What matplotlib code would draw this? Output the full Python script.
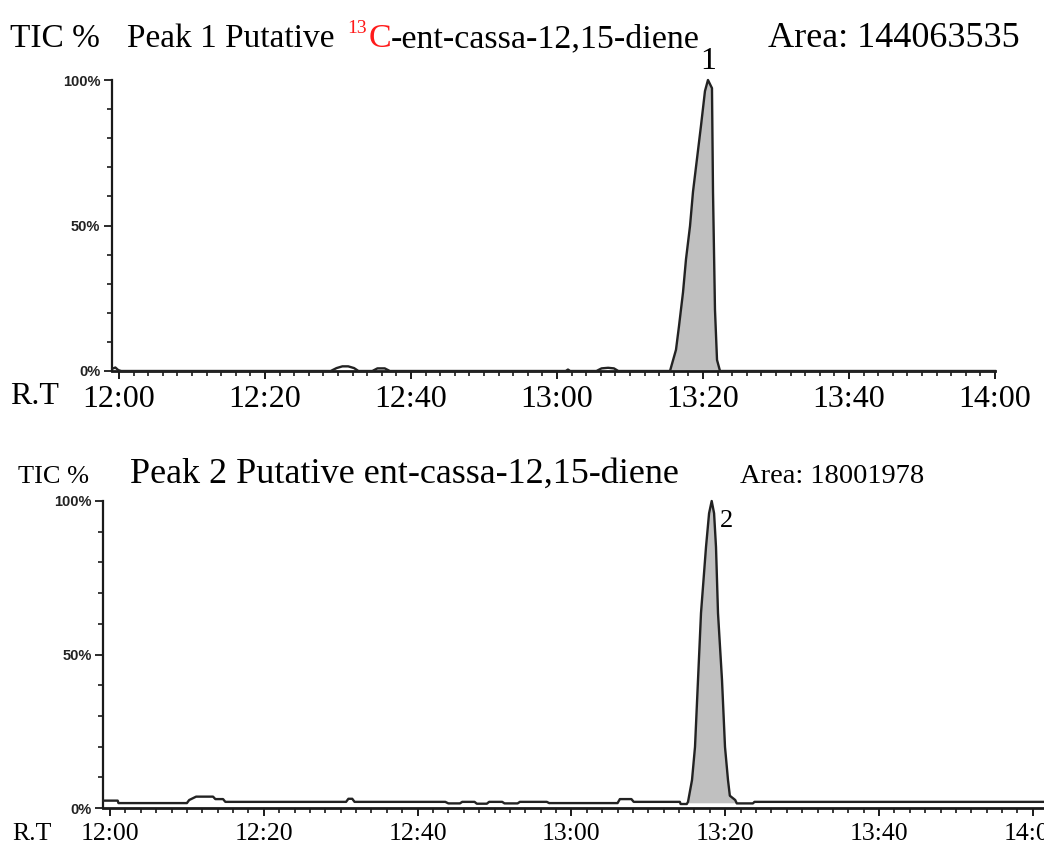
import matplotlib
matplotlib.use("Agg")
import matplotlib.pyplot as plt
from matplotlib.ticker import FixedLocator, FixedFormatter, MultipleLocator

# ---------------- data (minutes after 12:00, TIC %) ----------------
top_time = [-0.9, -0.5, -0.1, 0.3, 29.0, 29.8, 30.6, 31.4, 32.2, 32.8,
            34.7, 35.4, 36.4, 37.1, 61.2, 61.5, 61.8,
            65.4, 66.1, 67.0, 67.8, 68.4,
            75.48, 76.3, 76.7, 77.26, 77.67, 78.22, 78.63, 79.18, 79.73, 80.27, 80.68,
            81.23, 81.37, 81.64, 81.92, 82.33, 120.0]
top_tic = [0.8, 1.2, 0.3, 0.0, 0.0, 1.0, 1.6, 1.6, 1.0, 0.0,
           0.0, 0.9, 0.9, 0.0, 0.0, 0.5, 0.0,
           0.0, 0.9, 1.1, 0.9, 0.0,
           0.0, 7.3, 15.2, 27.0, 38.4, 49.8, 61.6, 73.0, 84.4, 96.2, 100.0,
           97.2, 61.6, 21.1, 3.8, 0.0, 0.0]

bottom_time = [-0.87, 1.0, 1.1, 10.0, 10.3, 11.2, 13.4, 13.7, 14.7, 15.0,
               30.7, 31.0, 31.5, 31.8, 43.6, 44.0, 45.5, 45.8, 47.4, 47.7, 49.0, 49.3,
               51.0, 51.3, 53.0, 53.3, 56.8, 57.1, 66.0, 66.3, 67.8, 68.1,
               74.1, 74.2, 75.0, 75.16, 75.68, 76.07, 76.46, 76.85, 77.5, 77.9, 78.24,
               78.55, 78.8, 79.06, 79.58, 79.97, 80.36, 80.6, 81.3, 81.5, 83.6, 83.8,
               121.45]
bottom_tic = [2.4, 2.4, 1.6, 1.6, 2.6, 3.7, 3.7, 2.9, 2.9, 2.0,
              2.0, 3.0, 3.0, 2.0, 2.0, 1.5, 1.5, 2.0, 2.0, 1.4, 1.4, 2.0,
              2.0, 1.5, 1.5, 2.0, 2.0, 1.6, 1.6, 2.9, 2.9, 2.0,
              2.0, 1.3, 1.3, 2.0, 9.1, 19.9, 41.7, 63.5, 85.0, 96.0, 100.0,
              96.0, 85.0, 63.5, 41.7, 19.9, 9.1, 4.0, 2.6, 1.5, 1.5, 2.0,
              2.0]

top_peak_window = (75.4, 82.4)
bottom_peak_window = (75.1, 81.4)
bottom_fill_base = 1.7

x_ticks = [0, 20, 40, 60, 80, 100, 120]
x_tick_labels = ["12:00", "12:20", "12:40", "13:00", "13:20", "13:40", "14:00"]
y_ticks = [0, 50, 100]
y_tick_labels = ["0%", "50%", "100%"]

top_title = "Peak 1 Putative"
top_iso_mass = "13"
top_iso_elem = "C"
top_title_rest = "-ent-cassa-12,15-diene"
top_area = "Area: 144063535"
bottom_title = "Peak 2 Putative ent-cassa-12,15-diene"
bottom_area = "Area: 18001978"
top_peak_label = "1"
bottom_peak_label = "2"

# ---------------- figure ----------------
W, H = 1044, 848
fig = plt.figure(figsize=(W / 100, H / 100), dpi=100)
SERIF = ["Liberation Serif", "DejaVu Serif"]


def fx(px):
    return px / W


def fy(py):
    return 1 - py / H


def style_axes(ax, xlim, xlab_size, xpad):
    ax.set_xlim(*xlim)
    ax.set_ylim(0, 100)
    for s in ("top", "right"):
        ax.spines[s].set_visible(False)
    ax.spines["left"].set_linewidth(1.6)
    ax.spines["bottom"].set_linewidth(2.0)
    ax.spines["left"].set_color("#1a1a1a")
    ax.spines["bottom"].set_color("#1a1a1a")
    ax.xaxis.set_major_locator(FixedLocator(x_ticks))
    ax.xaxis.set_major_formatter(FixedFormatter(x_tick_labels))
    ax.xaxis.set_minor_locator(MultipleLocator(2))
    ax.yaxis.set_major_locator(FixedLocator(y_ticks))
    ax.yaxis.set_major_formatter(FixedFormatter(y_tick_labels))
    ax.yaxis.set_minor_locator(MultipleLocator(10))
    ax.tick_params(axis="x", which="major", length=6, width=1.4, direction="out",
                   pad=xpad, labelsize=xlab_size, colors="#1a1a1a")
    ax.tick_params(axis="x", which="minor", length=3.5, width=1.2, direction="out",
                   colors="#1a1a1a")
    ax.tick_params(axis="y", which="major", length=6, width=1.3, direction="out",
                   pad=2.5, labelsize=10.5, colors="#1a1a1a")
    ax.tick_params(axis="y", which="minor", length=3.5, width=1.2, direction="out",
                   colors="#1a1a1a")
    for lab in ax.get_xticklabels():
        lab.set_family(SERIF)
        lab.set_color("black")
    for lab in ax.get_yticklabels():
        lab.set_family(["Liberation Sans", "DejaVu Sans"])
        lab.set_fontweight("bold")
        lab.set_color("#222222")
    ax.set_facecolor("white")


# ---- top panel ----
ax1 = fig.add_axes([fx(112), fy(371), fx(995) - fx(112), fy(80) - fy(371)])
style_axes(ax1, (-0.96, 120.0), 23, 4)
w1 = [top_peak_window[0] <= t <= top_peak_window[1] for t in top_time]
ax1.fill_between(top_time, top_tic, 0, where=w1, color="#c0c0c0", linewidth=0, zorder=2)
ax1.plot(top_time, top_tic, color="#222222", linewidth=1.7, clip_on=False, zorder=3)
ax1.text(80.68, 101.5, top_peak_label, ha="center", va="bottom", fontsize=23,
         family=SERIF, color="black")

# ---- bottom panel ----
ax2 = fig.add_axes([fx(103.3), fy(808), fx(1044) - fx(103.3), fy(501) - fy(808)])
style_axes(ax2, (-0.87, 121.45), 18.5, 5)
w2 = [bottom_peak_window[0] <= t <= bottom_peak_window[1] for t in bottom_time]
ax2.fill_between(bottom_time, bottom_tic, bottom_fill_base, where=w2, color="#c0c0c0",
                 linewidth=0, zorder=2)
ax2.plot(bottom_time, bottom_tic, color="#222222", linewidth=1.7, clip_on=False, zorder=3)
ax2.text(79.3, 97, bottom_peak_label, ha="left", va="top", fontsize=19,
         family=SERIF, color="black")

# ---- header texts ----
fig.text(fx(10), fy(47), "TIC %", fontsize=24, family=SERIF, va="baseline", ha="left")
fig.text(fx(10), fy(397), "R.T", fontsize=23, family=SERIF, va="center", ha="left")

fig.canvas.draw()
renderer = fig.canvas.get_renderer()


def chain(x_px, base_py, pieces):
    x = x_px
    for s, size, color, rise, gap in pieces:
        x += gap
        t = fig.text(fx(x), fy(base_py) + rise / H, s, fontsize=size, family=SERIF,
                     color=color, va="baseline", ha="left")
        bb = t.get_window_extent(renderer=renderer)
        x = bb.x1
    return x


chain(127, 47, [
    (top_title, 24, "black", 0, 0),
    (top_iso_mass, 14, "#ff1a1a", 14, 13),
    (top_iso_elem, 24.5, "#ff1a1a", 0, 1),
    (top_title_rest, 24.5, "black", 0, 0),
])
fig.text(fx(768), fy(47), top_area, fontsize=26, family=SERIF, va="baseline", ha="left")

fig.text(fx(18), fy(483), "TIC %", fontsize=19, family=SERIF, va="baseline", ha="left")
fig.text(fx(130), fy(483), bottom_title, fontsize=26, family=SERIF, va="baseline", ha="left")
fig.text(fx(740), fy(483), bottom_area, fontsize=20.5, family=SERIF, va="baseline", ha="left")
fig.text(fx(12), fy(834), "R.T", fontsize=18.5, family=SERIF, va="center", ha="left")

fig.savefig("out.png", dpi=100, facecolor="white")
